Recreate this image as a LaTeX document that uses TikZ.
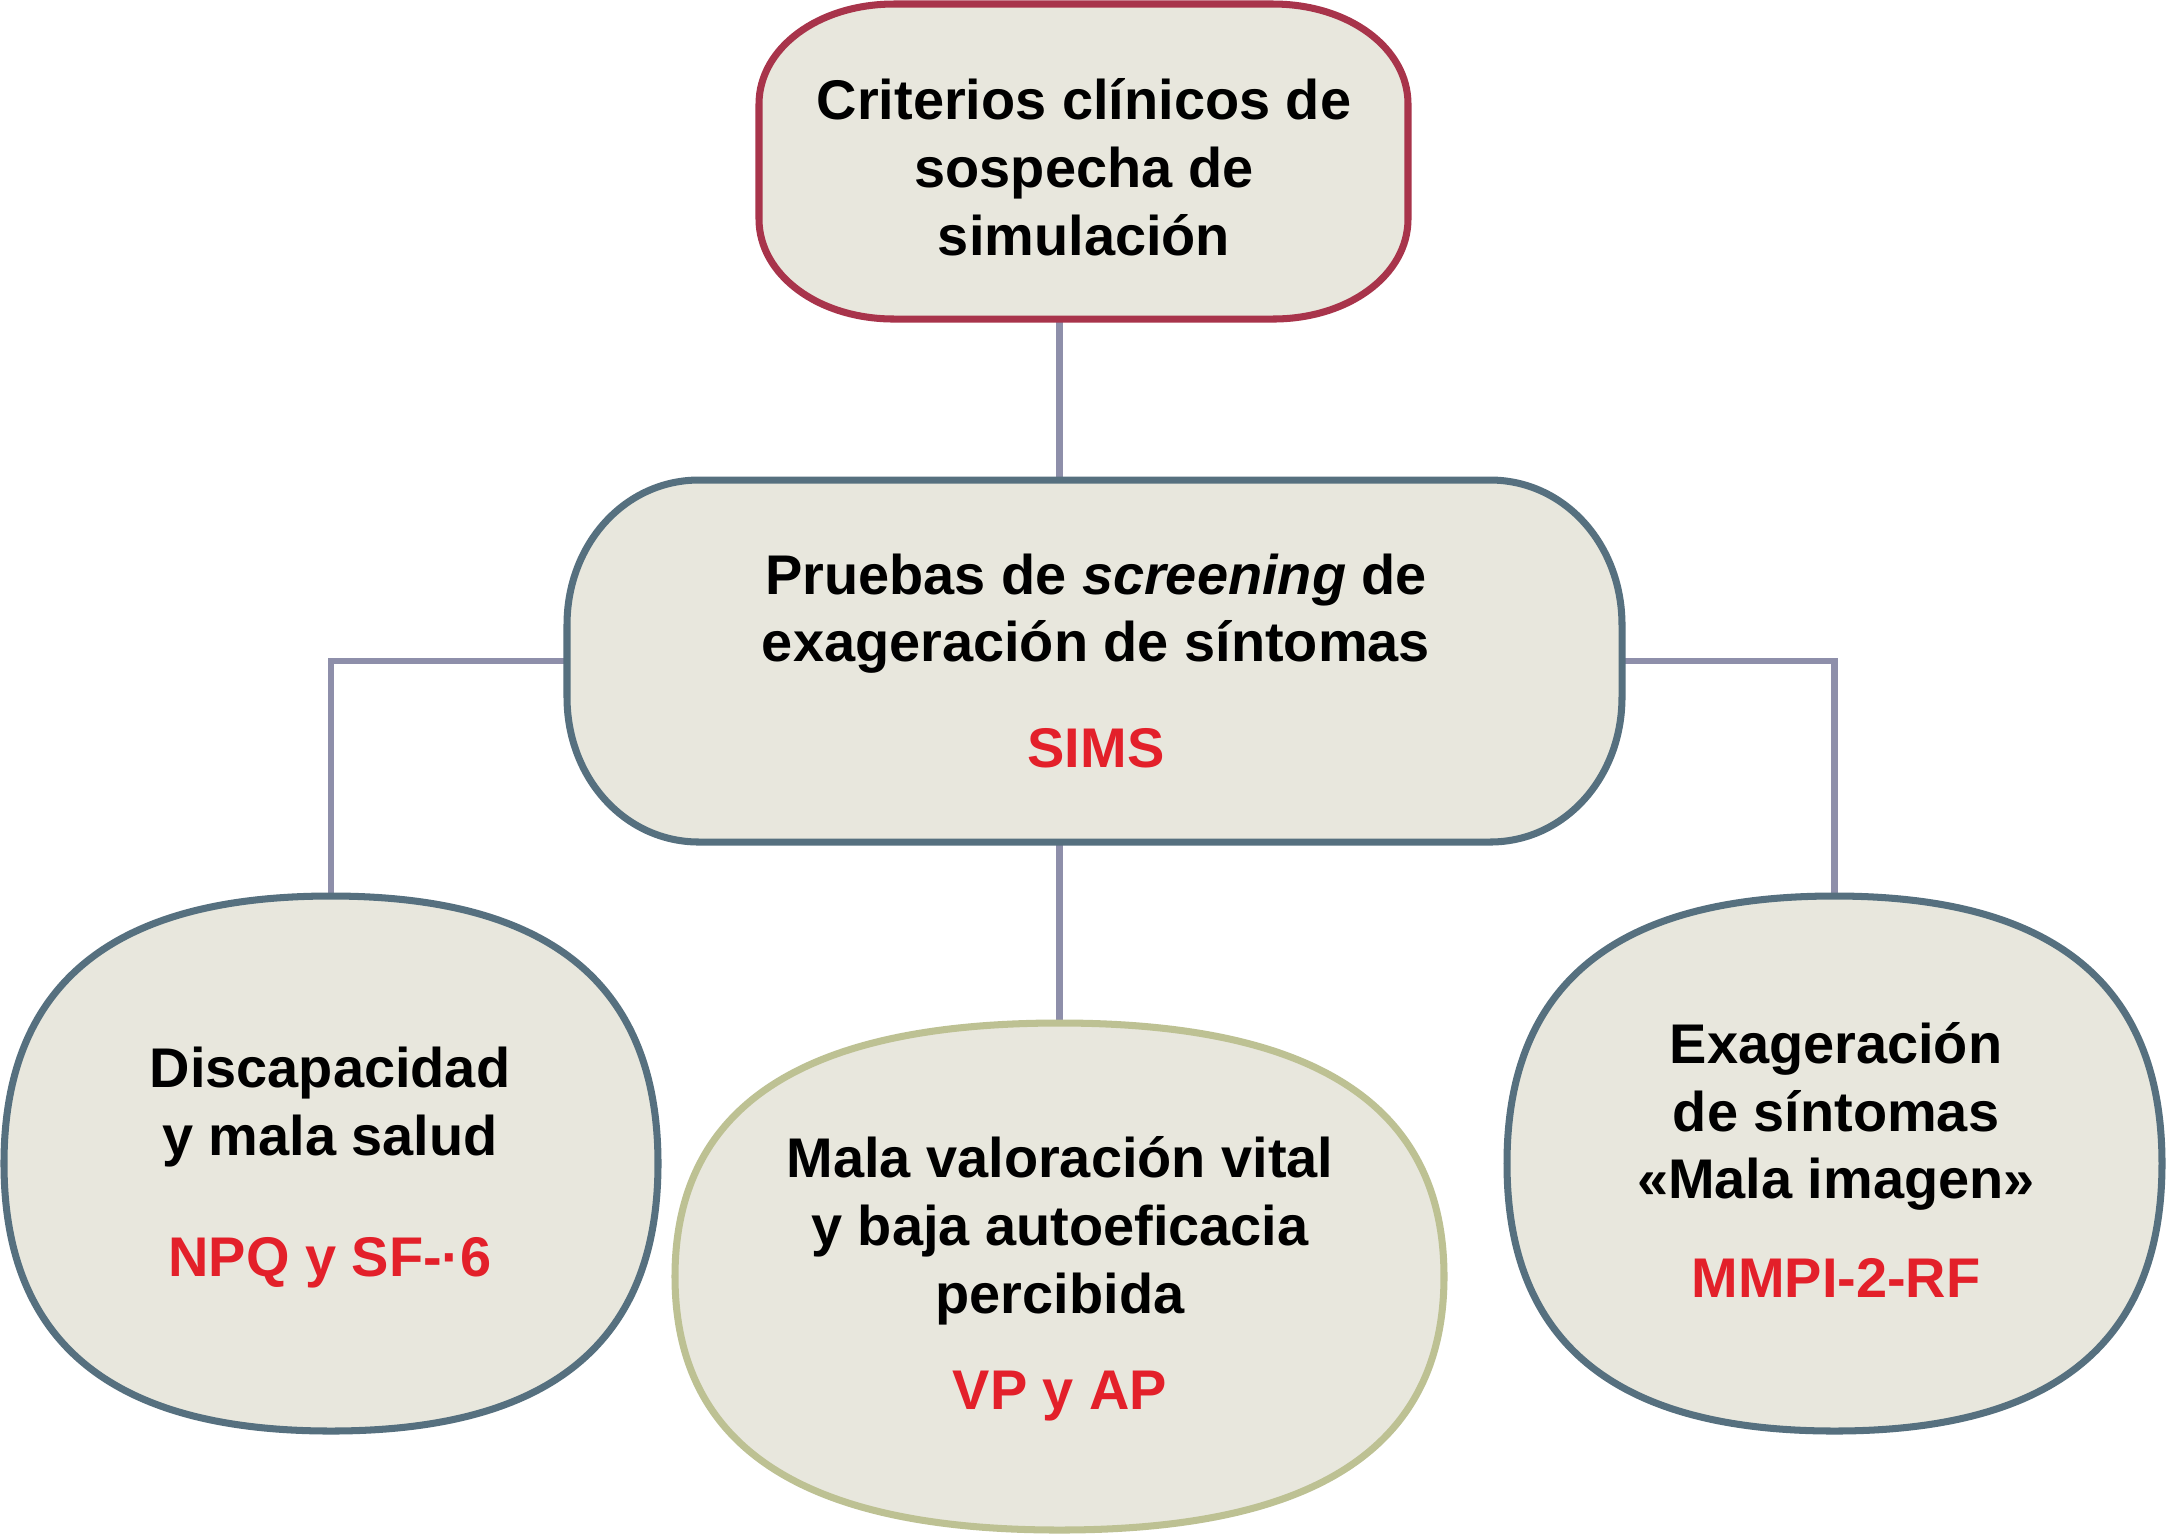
\documentclass[tikz,border=0pt]{standalone}
\usepackage{fontspec}
\setmainfont{Liberation Sans}
\usetikzlibrary{calc}
\definecolor{fillc}{HTML}{E8E7DD}
\definecolor{topc}{HTML}{A8344B}
\definecolor{slatec}{HTML}{56707F}
\definecolor{olivec}{HTML}{BDC193}
\definecolor{connc}{HTML}{8E8FAA}
\definecolor{redc}{HTML}{E3202A}
\tikzset{
  area/.style n args={2}{draw=none, inner sep=0pt, outer sep=0pt, minimum width=#1, minimum height=#2},
  conn/.style={draw=connc, line width=1.9pt},
  blobline/.style={fill=fillc, line width=2pt},
  txt/.style={align=center, inner sep=0pt, font=\fontsize{15.9}{19.2}\selectfont\bfseries},
}
% #1 style, #2 cx, #3 cy, #4 half width, #5 half height, #6 corner x, #7 corner y, #8 tension
\newcommand\blobdraw[8]{%
\draw[#1] ({#2-#4+#6},{#3-#5}) -- ({#2+#4-#6},{#3-#5})
 .. controls ({#2+#4-#6+#8*#6},{#3-#5}) and ({#2+#4},{#3-#5+#7-#8*#7}) .. ({#2+#4},{#3-#5+#7})
 -- ({#2+#4},{#3+#5-#7})
 .. controls ({#2+#4},{#3+#5-#7+#8*#7}) and ({#2+#4-#6+#8*#6},{#3+#5}) .. ({#2+#4-#6},{#3+#5})
 -- ({#2-#4+#6},{#3+#5})
 .. controls ({#2-#4+#6-#8*#6},{#3+#5}) and ({#2-#4},{#3+#5-#7+#8*#7}) .. ({#2-#4},{#3+#5-#7})
 -- ({#2-#4},{#3-#5+#7})
 .. controls ({#2-#4},{#3-#5+#7-#8*#7}) and ({#2-#4+#6-#8*#6},{#3-#5}) .. ({#2-#4+#6},{#3-#5})
 -- cycle;}
\begin{document}
\begin{tikzpicture}[x=0.01cm, y=-0.01cm]
\useasboundingbox[fill=white] (0,0) rectangle (2166,1535);
% areas of the shapes
\node[area={6.51cm}{3.17cm}] (top) at (1083.5,161.5) {};
\node[area={10.57cm}{3.64cm}] (mid) at (1094.5,661) {};
\node[area={6.56cm}{5.37cm}] (lblob) at (331,1163.5) {};
\node[area={7.71cm}{5.09cm}] (cblob) at (1059.5,1276.5) {};
\node[area={6.57cm}{5.37cm}] (rblob) at (1834.5,1163.5) {};
% connectors
\draw[conn] (top.south -| cblob.north) -- (mid.north -| cblob.north);
\draw[conn] (mid.south -| cblob.north) -- (cblob.north);
\draw[conn] (mid.west) -| (lblob.north);
\draw[conn] (mid.east) -| (rblob.north);
% shapes
\blobdraw{blobline, draw=topc}{1083.5}{161.5}{324.5}{157.5}{135}{100}{0.56}
\blobdraw{blobline, draw=slatec}{1094.5}{661}{527.5}{181}{132}{145}{0.56}
\blobdraw{blobline, draw=slatec}{331}{1163.5}{327}{267.5}{327}{267.5}{0.67}
\blobdraw{blobline, draw=olivec}{1059.5}{1276.5}{384.5}{253.5}{384.5}{253.5}{0.67}
\blobdraw{blobline, draw=slatec}{1834.5}{1163.5}{327.5}{267.5}{327.5}{267.5}{0.67}
% texts (anchored at the baseline of the last line)
\node[txt, anchor=base] (topt) at (1084,255) {Criterios clínicos de\\sospecha de\\simulación};
\node[txt, anchor=base] (midt) at (1096,767) {Pruebas de \textit{screening} de\\exageración de síntomas\\[10.7pt]\textcolor{redc}{SIMS}};
\node[txt, anchor=base] (lblobt) at (330,1276) {Discapacidad\\y mala salud\\[15.2pt]\textcolor{redc}{NPQ y SF-·6}};
\node[txt, anchor=base] (cblobt) at (1060,1409) {Mala valoración vital\\y baja autoeficacia\\percibida\\[8.1pt]\textcolor{redc}{VP y AP}};
\node[txt, anchor=base] (rblobt) at (1836,1297) {Exageración\\de síntomas\\«Mala imagen»\\[8.7pt]\textcolor{redc}{MMPI-2-RF}};
\end{tikzpicture}
\end{document}
